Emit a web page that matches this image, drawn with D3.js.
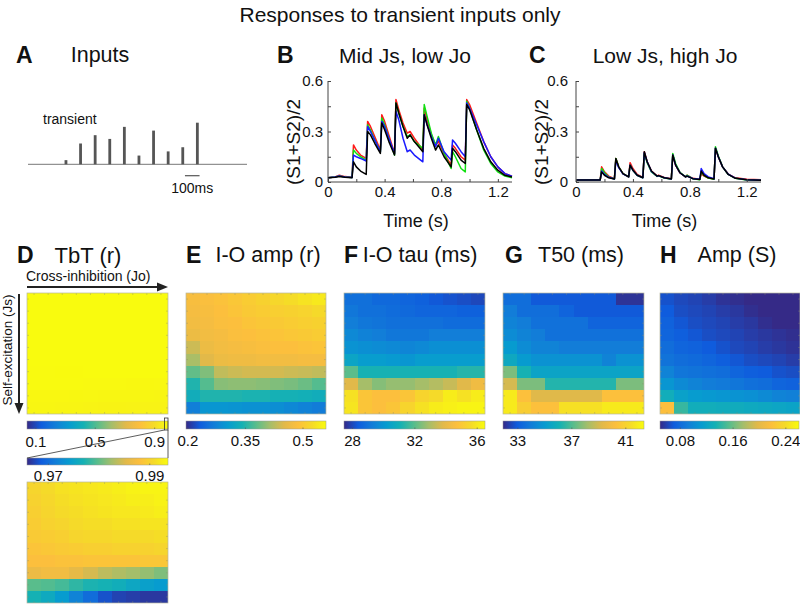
<!DOCTYPE html>
<html>
<head>
<meta charset="utf-8">
<script src="https://cdn.jsdelivr.net/npm/d3@7"></script>
<style>
  body { margin: 0; background: #fff; }
  svg { font-family: "Liberation Sans", Arial, sans-serif; }
</style>
</head>
<body>
<svg id="fig" width="800" height="604"></svg>
<script>
// ---- data ----
const inputTimes = [0.07, 0.17, 0.27, 0.37, 0.47, 0.57, 0.67, 0.77, 0.87, 0.97];
const inputAmps = [0.1, 0.5, 0.7, 0.61, 0.9, 0.21, 0.81, 0.31, 0.41, 1.0];

// panel B traces: [time (s), (S1+S2)/2]
const bRed = [[0,.025],[.05,.03],[.08,.04],[.12,.032],[.17,.028],[.18,.22],[.2,.19],[.23,.16],[.27,.14],
  [.28,.36],[.3,.33],[.33,.27],[.37,.19],[.38,.40],[.4,.36],[.43,.28],[.47,.17],[.48,.49],[.5,.43],[.53,.35],
  [.56,.29],[.58,.30],[.61,.26],[.67,.19],[.68,.44],[.7,.37],[.73,.28],[.76,.22],[.78,.24],[.82,.17],[.87,.10],
  [.88,.22],[.9,.20],[.94,.15],[.97,.13],[.98,.49],[1.0,.46],[1.05,.35],[1.1,.24],[1.15,.15],[1.2,.09],[1.25,.05],[1.3,.035]];
const bGreen = [[0,.025],[.05,.03],[.08,.035],[.12,.03],[.17,.027],[.18,.19],[.2,.17],[.23,.15],[.27,.13],
  [.28,.34],[.3,.31],[.33,.25],[.37,.18],[.38,.38],[.4,.34],[.43,.26],[.47,.16],[.48,.47],[.5,.41],[.53,.33],
  [.56,.27],[.58,.28],[.61,.24],[.67,.20],[.68,.46],[.7,.39],[.73,.29],[.76,.22],[.78,.27],[.82,.17],[.87,.08],
  [.88,.18],[.9,.15],[.94,.08],[.97,.06],[.98,.48],[1.0,.44],[1.05,.31],[1.1,.19],[1.15,.11],[1.2,.06],[1.25,.035],[1.3,.025]];
const bBlue = [[0,.025],[.05,.03],[.08,.035],[.12,.03],[.17,.027],[.18,.16],[.2,.15],[.23,.14],[.27,.125],
  [.28,.33],[.3,.30],[.33,.25],[.37,.18],[.38,.36],[.4,.33],[.43,.26],[.47,.17],[.48,.42],[.5,.37],[.53,.26],
  [.56,.18],[.58,.19],[.61,.16],[.67,.12],[.68,.40],[.7,.34],[.73,.27],[.76,.21],[.78,.26],[.82,.18],[.87,.13],
  [.88,.25],[.9,.23],[.94,.18],[.97,.15],[.98,.47],[1.0,.44],[1.05,.34],[1.1,.24],[1.15,.15],[1.2,.09],[1.25,.05],[1.3,.035]];
const bBlack = [[0,.025],[.05,.028],[.08,.032],[.12,.028],[.17,.025],[.18,.12],[.2,.09],[.23,.065],[.27,.045],
  [.28,.30],[.3,.28],[.33,.23],[.37,.17],[.38,.35],[.4,.31],[.43,.24],[.47,.16],[.48,.47],[.5,.41],[.53,.33],
  [.56,.26],[.58,.28],[.61,.24],[.67,.18],[.68,.40],[.7,.34],[.73,.26],[.76,.19],[.78,.22],[.82,.15],[.87,.09],
  [.88,.20],[.9,.18],[.94,.13],[.97,.11],[.98,.46],[1.0,.43],[1.05,.31],[1.1,.20],[1.15,.12],[1.2,.07],[1.25,.04],[1.3,.03]];

// panel C traces
const cRed = [[0,.013],[.17,.013],[.18,.09],[.2,.06],[.23,.035],[.27,.02],[.28,.14],[.3,.09],[.33,.05],[.37,.03],
  [.38,.115],[.4,.08],[.43,.045],[.47,.027],[.48,.18],[.5,.12],[.53,.065],[.57,.035],[.58,.04],[.62,.027],[.67,.02],
  [.68,.16],[.7,.10],[.73,.055],[.77,.03],[.78,.04],[.82,.022],[.87,.016],[.88,.05],[.9,.035],[.93,.024],[.97,.018],
  [.98,.20],[1.0,.15],[1.03,.09],[1.07,.047],[1.12,.025],[1.2,.016],[1.3,.014]];
const cGreen = [[0,.012],[.17,.012],[.18,.08],[.2,.055],[.23,.03],[.27,.018],[.28,.14],[.3,.09],[.33,.05],[.37,.03],
  [.38,.10],[.4,.07],[.43,.04],[.47,.025],[.48,.17],[.5,.115],[.53,.06],[.57,.033],[.58,.037],[.62,.024],[.67,.018],
  [.68,.17],[.7,.11],[.73,.058],[.77,.03],[.78,.04],[.82,.02],[.87,.014],[.88,.06],[.9,.038],[.93,.023],[.97,.016],
  [.98,.21],[1.0,.155],[1.03,.09],[1.07,.045],[1.12,.022],[1.2,.012],[1.3,.01]];
const cBlue = [[0,.012],[.17,.012],[.18,.065],[.2,.045],[.23,.028],[.27,.018],[.28,.13],[.3,.085],[.33,.048],[.37,.03],
  [.38,.10],[.4,.07],[.43,.04],[.47,.025],[.48,.175],[.5,.12],[.53,.063],[.57,.034],[.58,.038],[.62,.025],[.67,.018],
  [.68,.16],[.7,.10],[.73,.055],[.77,.03],[.78,.036],[.82,.021],[.87,.016],[.88,.08],[.9,.05],[.93,.03],[.97,.019],
  [.98,.20],[1.0,.15],[1.03,.09],[1.07,.046],[1.12,.023],[1.2,.013],[1.3,.011]];
const cBlack = [[0,.012],[.17,.012],[.18,.06],[.2,.04],[.23,.025],[.27,.018],[.28,.14],[.3,.09],[.33,.05],[.37,.03],
  [.38,.10],[.4,.07],[.43,.04],[.47,.025],[.48,.18],[.5,.12],[.53,.065],[.57,.035],[.58,.038],[.62,.025],[.67,.018],
  [.68,.16],[.7,.10],[.73,.055],[.77,.03],[.78,.035],[.82,.02],[.87,.015],[.88,.065],[.9,.04],[.93,.025],[.97,.018],
  [.98,.20],[1.0,.15],[1.03,.09],[1.07,.045],[1.12,.022],[1.2,.013],[1.3,.01]];

// heat maps: rows = self-excitation (top to bottom), cols = cross-inhibition (left to right)
const tbt = [
  [0.9903,0.9908,0.9914,0.9917,0.9919,0.9922,0.9925,0.9928,0.993,0.993],
  [0.99,0.9905,0.9911,0.9914,0.9917,0.9919,0.9922,0.9925,0.9925,0.9928],
  [0.9897,0.9903,0.9908,0.9911,0.9914,0.9917,0.9919,0.9919,0.9922,0.9925],
  [0.9894,0.99,0.9903,0.9908,0.9911,0.9911,0.9914,0.9914,0.9917,0.9917],
  [0.9892,0.9894,0.9897,0.9903,0.9905,0.9905,0.9908,0.9908,0.9908,0.9911],
  [0.9886,0.9889,0.9892,0.9894,0.9897,0.9897,0.99,0.99,0.99,0.9903],
  [0.988,0.988,0.9883,0.9883,0.9886,0.9886,0.9886,0.9886,0.9889,0.9889],
  [0.9864,0.9869,0.9869,0.9858,0.9847,0.9836,0.983,0.9825,0.9819,0.9811],
  [0.9797,0.9794,0.9789,0.978,0.9772,0.9769,0.9764,0.9755,0.9747,0.9741],
  [0.9769,0.9758,0.9741,0.9719,0.97,0.968,0.9672,0.9669,0.9666,0.9666]
];
const ioAmp = [
  [0.48,0.484,0.491,0.498,0.505,0.512,0.519,0.526,0.533,0.54],
  [0.477,0.48,0.487,0.494,0.501,0.505,0.508,0.512,0.515,0.522],
  [0.473,0.477,0.484,0.487,0.494,0.498,0.501,0.505,0.508,0.512],
  [0.466,0.473,0.477,0.484,0.487,0.491,0.494,0.498,0.501,0.505],
  [0.438,0.466,0.473,0.477,0.48,0.484,0.487,0.487,0.491,0.494],
  [0.417,0.452,0.466,0.47,0.47,0.473,0.473,0.473,0.477,0.477],
  [0.382,0.396,0.431,0.438,0.442,0.442,0.442,0.438,0.435,0.431],
  [0.347,0.375,0.4,0.403,0.403,0.4,0.396,0.393,0.386,0.375],
  [0.333,0.347,0.347,0.347,0.344,0.344,0.34,0.34,0.337,0.333],
  [0.27,0.298,0.298,0.295,0.291,0.291,0.288,0.281,0.274,0.267]
];
const ioTau = [
  [28.9,28.9,28.7,28.7,28.6,28.5,28.3,28.2,28.1,28.0],
  [29.1,28.9,28.9,28.8,28.7,28.6,28.6,28.6,28.5,28.5],
  [29.3,29.1,29.0,28.9,28.9,28.9,28.9,28.8,28.8,28.8],
  [29.6,29.4,29.3,29.1,29.1,29.1,29.3,29.3,29.3,29.3],
  [29.9,29.8,29.7,29.6,29.5,29.6,29.8,29.8,29.8,29.8],
  [30.5,30.2,30.2,30.1,30.0,30.2,30.2,30.2,30.2,30.2],
  [32.0,31.1,31.1,31.1,31.1,31.1,31.1,31.1,31.3,31.3],
  [33.8,32.9,32.5,32.7,32.7,32.9,33.1,33.4,33.8,34.3],
  [35.8,34.9,34.7,34.7,34.9,35.4,35.6,36.1,35.8,36.1],
  [35.9,34.9,34.7,34.9,35.4,35.8,36.1,36.2,36.3,36.3]
];
const t50 = [
  [33.5,33.5,32.9,32.9,32.9,32.9,32.9,32.9,32.1,32.1],
  [34.0,33.5,33.5,33.5,33.2,32.9,32.9,32.9,32.9,32.9],
  [34.2,34.0,33.6,33.6,33.6,33.6,33.2,33.2,33.2,33.2],
  [34.5,34.2,34.0,33.6,33.6,33.6,33.6,33.6,33.6,33.6],
  [35.0,34.5,34.2,34.2,34.0,34.0,34.0,34.0,34.0,34.0],
  [35.6,35.0,34.7,34.7,34.7,34.7,34.7,34.2,34.7,34.7],
  [37.6,36.1,35.4,35.4,35.4,35.4,35.4,35.4,35.4,35.4],
  [39.0,37.6,37.6,36.3,36.3,36.3,36.3,36.3,37.6,37.6],
  [41.8,40.3,39.2,39.2,39.2,39.2,39.2,40.3,40.3,40.3],
  [41.8,40.8,40.3,40.3,41.5,41.5,41.5,41.8,41.8,41.8]
];
const ampS = [
  [0.066,0.062,0.06,0.057,0.053,0.051,0.049,0.049,0.049,0.049],
  [0.07,0.064,0.062,0.06,0.057,0.055,0.051,0.049,0.049,0.049],
  [0.074,0.068,0.064,0.062,0.06,0.057,0.055,0.051,0.049,0.049],
  [0.076,0.072,0.068,0.064,0.062,0.06,0.057,0.055,0.053,0.051],
  [0.081,0.076,0.074,0.07,0.066,0.062,0.06,0.057,0.055,0.053],
  [0.085,0.081,0.079,0.076,0.072,0.068,0.064,0.062,0.06,0.057],
  [0.095,0.087,0.085,0.083,0.081,0.076,0.072,0.07,0.066,0.064],
  [0.108,0.1,0.095,0.091,0.089,0.087,0.083,0.081,0.076,0.074],
  [0.129,0.117,0.112,0.11,0.108,0.106,0.104,0.1,0.095,0.093],
  [0.218,0.144,0.129,0.129,0.127,0.127,0.125,0.123,0.121,0.119]
];

// colour ranges and tick labels of the colour bars
const tbtRange = [0.04, 0.99], tbtTicks = [0.1, 0.5, 0.9];
const tbtZoomRange = [0.9658, 0.9936], tbtZoomTicks = [0.97, 0.99];
const ampRange = [0.195, 0.56], ampTicks = [0.2, 0.35, 0.5];
const tauRange = [27.45, 36.5], tauTicks = [28, 32, 36];
const t50Range = [31.9, 42.35], t50Ticks = [33, 37, 41];
const ampSRange = [0.049, 0.26], ampSTicks = [0.08, 0.16, 0.24];

// ---- drawing ----
const svg = d3.select("#fig");
const parula = d3.piecewise(d3.interpolateRgb, [
  "#352a87", "#0f5cdd", "#127dd8", "#079ccf", "#15b1b4", "#59bd8c",
  "#a5be6a", "#e1b94a", "#fcbf3d", "#f5da29", "#f9fb0e"]);

function label(x, y, txt, size, opts = {}) {
  return svg.append("text")
    .attr("x", x).attr("y", y)
    .attr("font-size", size)
    .attr("font-weight", opts.bold ? "bold" : null)
    .attr("text-anchor", opts.anchor || "middle")
    .attr("dominant-baseline", "central")
    .attr("fill", "#111")
    .text(txt);
}

label(400, 14, "Responses to transient inputs only", 21);

// panel letters and titles
label(16, 55, "A", 23, { bold: true, anchor: "start" });
label(100, 55, "Inputs", 21.5);
label(277, 55, "B", 23, { bold: true, anchor: "start" });
label(405, 55, "Mid Js, low Jo", 21);
label(529, 55, "C", 23, { bold: true, anchor: "start" });
label(665, 55, "Low Js, high Jo", 21);

label(17, 255, "D", 23, { bold: true, anchor: "start" });
label(88, 255, "TbT (r)", 22);
label(186, 255, "E", 23, { bold: true, anchor: "start" });
label(268, 255, "I-O amp (r)", 21.5);
label(344, 255, "F", 23, { bold: true, anchor: "start" });
label(420, 255, "I-O tau (ms)", 21.5);
label(505, 255, "G", 23, { bold: true, anchor: "start" });
label(581, 255, "T50 (ms)", 21.5);
label(660, 255, "H", 23, { bold: true, anchor: "start" });
label(737, 255, "Amp (S)", 21.5);

// ---- panel A: input pulses ----
const xA = d3.scaleLinear().domain([-0.19, 1.31]).range([28, 247]);
const yA = d3.scaleLinear().domain([0, 1]).range([164.3, 122.7]);
svg.append("line")
  .attr("x1", xA.range()[0]).attr("x2", xA.range()[1])
  .attr("y1", yA(0)).attr("y2", yA(0))
  .attr("stroke", "#777").attr("stroke-width", 1);
svg.append("g").selectAll("rect")
  .data(inputTimes)
  .join("rect")
  .attr("x", d => xA(d) - 1.4)
  .attr("width", 2.8)
  .attr("y", (d, i) => yA(inputAmps[i]))
  .attr("height", (d, i) => yA(0) - yA(inputAmps[i]))
  .attr("fill", "#555");
label(43, 119, "transient", 14, { anchor: "start" });
svg.append("line")
  .attr("x1", xA(0.885)).attr("x2", xA(0.985))
  .attr("y1", 175.7).attr("y2", 175.7)
  .attr("stroke", "#555").attr("stroke-width", 1.2);
label(xA(0.935), 188, "100ms", 14);

// ---- panels B and C: traces ----
function tracePanel(x0, x1, series, pad, ylabX) {
  const x = d3.scaleLinear().domain([0, 1.3]).range([x0, x1]);
  const y = d3.scaleLinear().domain([0, 0.6]).range([182, 81]);
  const g = svg.append("g");
  const line = d3.line().x(d => x(d[0])).y(d => y(d[1]));
  series.forEach(s => {
    g.append("path").datum(s.data)
      .attr("fill", "none")
      .attr("stroke", s.color)
      .attr("stroke-width", 1.5)
      .attr("stroke-linejoin", "round")
      .attr("d", line);
  });
  const ax = g.append("g").attr("transform", `translate(0,${y(0)})`)
    .call(d3.axisBottom(x).tickValues([0, 0.2, 0.4, 0.6, 0.8, 1.0, 1.2])
      .tickSize(-3).tickPadding(4)
      .tickFormat(d => [0, 0.4, 0.8, 1.2].includes(d) ? String(d) : ""));
  const ay = g.append("g").attr("transform", `translate(${x0},0)`)
    .call(d3.axisLeft(y).tickValues([0, 0.15, 0.3, 0.45, 0.6])
      .tickSize(-3).tickPadding(pad)
      .tickFormat(d => [0, 0.3, 0.6].includes(d) ? String(d) : ""));
  [ax, ay].forEach(a => {
    a.select(".domain").attr("stroke", "#444");
    a.selectAll(".tick line").attr("stroke", "#444");
    a.selectAll("text").attr("font-size", 15).attr("fill", "#111")
      .attr("font-family", "Liberation Sans, Arial, sans-serif");
  });
  ax.select(".domain").attr("d", `M${x0},0H${x1}`);
  ay.select(".domain").attr("d", `M0,${y(0)}V${y(0.6)}`);
  label((x0 + x1) / 2 - 4, 221, "Time (s)", 18);
  label(ylabX, 142, "(S1+S2)/2", 19).attr("transform", `rotate(-90,${ylabX},142)`);
}
tracePanel(328, 512, [
  { data: bRed, color: "#ff1a1a" }, { data: bGreen, color: "#10e010" },
  { data: bBlue, color: "#1a1aff" }, { data: bBlack, color: "#000" }], 5, 293);
tracePanel(576, 761, [
  { data: cRed, color: "#ff1a1a" }, { data: cGreen, color: "#10e010" },
  { data: cBlue, color: "#1a1aff" }, { data: cBlack, color: "#000" }], 8, 541);

// ---- heat maps with colour bars ----
const defs = svg.append("defs");
const grad = defs.append("linearGradient").attr("id", "parulaGrad");
d3.range(0, 1.0001, 0.05).forEach(t => {
  grad.append("stop").attr("offset", t).attr("stop-color", parula(t));
});

function heatmap(data, x0, y0, w, h, domain) {
  const g = svg.append("g");
  const xs = d3.scaleBand().domain(d3.range(data[0].length)).range([x0, x0 + w]);
  const ys = d3.scaleBand().domain(d3.range(data.length)).range([y0, y0 + h]);
  const color = d3.scaleSequential(parula).domain(domain).clamp(true);
  data.forEach((row, r) => {
    g.selectAll(null).data(row).join("rect")
      .attr("x", (d, c) => xs(c))
      .attr("y", ys(r))
      .attr("width", xs.bandwidth() + 0.4)
      .attr("height", ys.bandwidth() + 0.4)
      .attr("fill", d => color(d))
      .attr("shape-rendering", "crispEdges");
  });
  // small inward ticks at cell centres
  const tk = g.append("g").attr("stroke", "#8a8a6a").attr("stroke-width", 0.6).attr("opacity", 0.6);
  xs.domain().forEach(c => {
    const cx = xs(c) + xs.bandwidth() / 2;
    tk.append("line").attr("x1", cx).attr("x2", cx).attr("y1", y0).attr("y2", y0 + 2);
    tk.append("line").attr("x1", cx).attr("x2", cx).attr("y1", y0 + h).attr("y2", y0 + h - 2);
  });
  ys.domain().forEach(r => {
    const cy = ys(r) + ys.bandwidth() / 2;
    tk.append("line").attr("y1", cy).attr("y2", cy).attr("x1", x0).attr("x2", x0 + 2);
    tk.append("line").attr("y1", cy).attr("y2", cy).attr("x1", x0 + w).attr("x2", x0 + w - 2);
  });
  g.append("rect").attr("x", x0).attr("y", y0).attr("width", w).attr("height", h)
    .attr("fill", "none").attr("stroke", "#b8b8a0").attr("stroke-width", 0.7);
}

function colorbar(x0, y0, w, h, domain, ticks, labY) {
  const g = svg.append("g");
  const s = d3.scaleLinear().domain(domain).range([x0, x0 + w]);
  g.append("rect").attr("x", x0).attr("y", y0).attr("width", w).attr("height", h)
    .attr("fill", "url(#parulaGrad)").attr("stroke", "#999").attr("stroke-width", 0.5);
  g.selectAll("line.tk").data(ticks).join("line")
    .attr("x1", d => s(d)).attr("x2", d => s(d))
    .attr("y1", y0 + h).attr("y2", y0 + h - 1.5)
    .attr("stroke", "#555").attr("stroke-width", 0.6);
  g.selectAll("text").data(ticks).join("text")
    .attr("x", d => s(d)).attr("y", labY)
    .attr("text-anchor", "middle").attr("dominant-baseline", "central")
    .attr("font-size", 15).attr("fill", "#111")
    .text(d => String(d));
  return s;
}

heatmap(tbt, 27, 293, 141, 121, tbtRange);
heatmap(ioAmp, 186, 293, 140, 121, ampRange);
heatmap(ioTau, 344, 293, 141, 121, tauRange);
heatmap(t50, 503, 293, 141, 121, t50Range);
heatmap(ampS, 660, 293, 140, 121, ampSRange);
heatmap(tbt, 27, 482, 141, 121, tbtZoomRange);

const sD = colorbar(27, 421, 141, 8, tbtRange, tbtTicks, 441);
colorbar(186, 421, 140, 8, ampRange, ampTicks, 440);
colorbar(344, 421, 141, 8, tauRange, tauTicks, 440);
colorbar(503, 421, 141, 8, t50Range, t50Ticks, 440);
colorbar(660, 421, 139, 8, ampSRange, ampSTicks, 440);
colorbar(27, 458, 141, 7, tbtZoomRange, tbtZoomTicks, 475);

// zoom box linking the two TbT colour bars
const zx0 = sD(tbtZoomRange[0]);
svg.append("rect").attr("x", zx0).attr("y", 418).attr("width", 168 - zx0).attr("height", 12)
  .attr("fill", "none").attr("stroke", "#333").attr("stroke-width", 0.8);
svg.append("line").attr("x1", 27).attr("y1", 458).attr("x2", zx0).attr("y2", 430)
  .attr("stroke", "#333").attr("stroke-width", 0.8);
svg.append("line").attr("x1", 168).attr("y1", 430).attr("x2", 168).attr("y2", 458)
  .attr("stroke", "#333").attr("stroke-width", 0.8);

// axis arrows on D
svg.append("line").attr("x1", 27).attr("x2", 160).attr("y1", 287).attr("y2", 287)
  .attr("stroke", "#222").attr("stroke-width", 2);
svg.append("path").attr("d", "M168,287L157,282.5L157,291.5Z").attr("fill", "#222");
label(26, 276, "Cross-inhibition (Jo)", 14, { anchor: "start" });
svg.append("line").attr("x1", 19).attr("x2", 19).attr("y1", 294).attr("y2", 405)
  .attr("stroke", "#222").attr("stroke-width", 2);
svg.append("path").attr("d", "M19,414L14.5,403L23.5,403Z").attr("fill", "#222");
label(7, 350, "Self-excitation (Js)", 13.5).attr("transform", "rotate(-90,7,350)");
</script>
</body>
</html>
